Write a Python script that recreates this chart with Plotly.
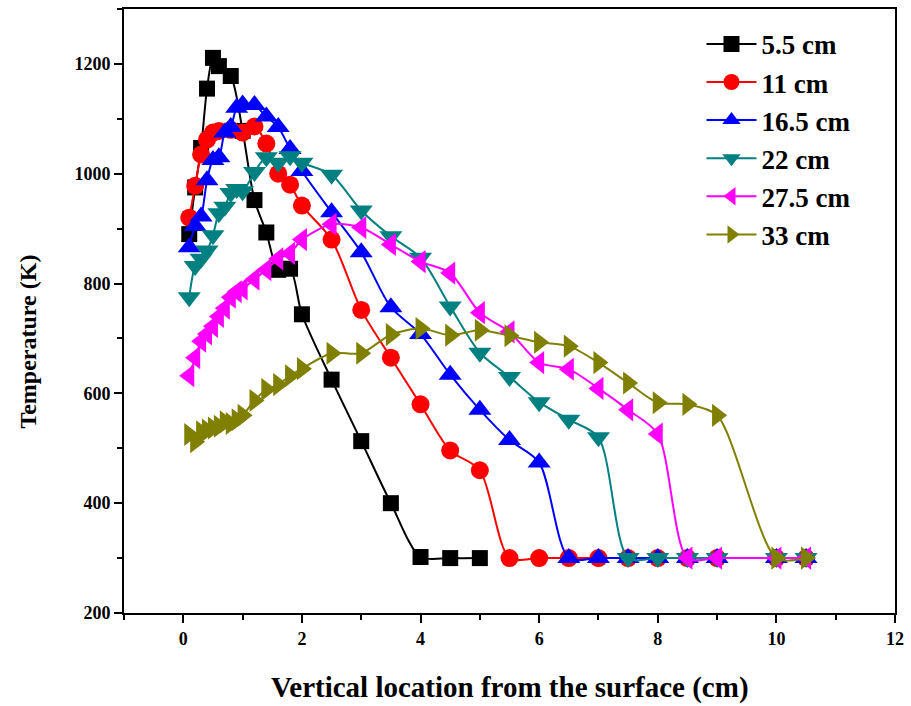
import plotly.graph_objects as go

# Vertical temperature profiles at several horizontal distances
x_55 = [0.1, 0.2, 0.3, 0.4, 0.5, 0.6, 0.8, 1.0, 1.2, 1.4, 1.6, 1.8, 2.0, 2.5, 3.0, 3.5, 4.0, 4.5, 5.0]
t_55 = [890, 975, 1047, 1155, 1211, 1196, 1178, 1078, 952, 893, 825, 827, 744, 625, 513, 400, 302, 300, 300]

x_11 = [0.1, 0.2, 0.3, 0.4, 0.5, 0.6, 0.8, 1.0, 1.2, 1.4, 1.6, 1.8, 2.0, 2.5, 3.0, 3.5, 4.0, 4.5, 5.0,
        5.5, 6.0, 6.5, 7.0, 7.5, 8.0, 8.5, 9.0, 10.0, 10.5]
t_11 = [920, 978, 1035, 1062, 1075, 1078, 1080, 1075, 1086, 1055, 1000, 980, 942, 880, 752, 665, 580, 496, 460,
        300, 300, 300, 300, 300, 300, 300, 300, 300, 300]

x_165 = [0.1, 0.2, 0.3, 0.4, 0.5, 0.6, 0.7, 0.8, 0.9, 1.0, 1.2, 1.4, 1.6, 1.8, 2.0, 2.5, 3.0, 3.5, 4.0, 4.5,
         5.0, 5.5, 6.0, 6.5, 7.0, 7.5, 8.0, 8.5, 9.0, 10.0, 10.5]
t_165 = [866, 905, 922, 988, 1025, 1030, 1075, 1085, 1120, 1126, 1125, 1104, 1085, 1045, 1005, 930, 857, 757, 708,
         634, 570, 515, 474, 300, 300, 300, 300, 300, 300, 300, 300]

x_22 = [0.1, 0.2, 0.3, 0.4, 0.5, 0.6, 0.7, 0.8, 0.9, 1.0, 1.2, 1.4, 1.6, 1.8, 2.0, 2.5, 3.0, 3.5, 4.0, 4.5,
        5.0, 5.5, 6.0, 6.5, 7.0, 7.5, 8.0, 8.5, 9.0, 10.0, 10.5]
t_22 = [775, 832, 845, 860, 888, 928, 940, 965, 972, 968, 1003, 1030, 1020, 1032, 1020, 998, 933, 886, 847, 758,
        674, 630, 584, 552, 520, 300, 300, 300, 300, 300, 300]

x_275 = [0.1, 0.2, 0.3, 0.4, 0.5, 0.6, 0.7, 0.8, 0.9, 1.0, 1.2, 1.4, 1.6, 1.8, 2.0, 2.5, 3.0, 3.5, 4.0, 4.5,
         5.0, 5.5, 6.0, 6.5, 7.0, 7.5, 8.0, 8.5, 9.0, 10.0, 10.5]
t_275 = [632, 665, 695, 708, 722, 740, 755, 775, 785, 790, 808, 825, 845, 855, 880, 908, 902, 871, 840, 819,
         747, 712, 656, 644, 609, 570, 526, 300, 300, 300, 300]

x_33 = [0.1, 0.2, 0.3, 0.4, 0.5, 0.6, 0.7, 0.8, 0.9, 1.0, 1.2, 1.4, 1.6, 1.8, 2.0, 2.5, 3.0, 3.5, 4.0, 4.5,
        5.0, 5.5, 6.0, 6.5, 7.0, 7.5, 8.0, 8.5, 9.0, 10.0, 10.5]
t_33 = [525, 512, 530, 533, 537, 540, 548, 545, 552, 560, 587, 607, 616, 632, 645, 673, 673, 707, 718, 706,
        715, 705, 693, 686, 656, 619, 583, 580, 560, 300, 300]

series = [
    ("5.5 cm", x_55, t_55, "#000000", "square", 16),
    ("11 cm", x_11, t_11, "#FF0000", "circle", 18),
    ("16.5 cm", x_165, t_165, "#0000FF", "triangle-up", 20),
    ("22 cm", x_22, t_22, "#008080", "triangle-down", 20),
    ("27.5 cm", x_275, t_275, "#FF00FF", "triangle-left", 20),
    ("33 cm", x_33, t_33, "#808000", "triangle-right", 20),
]

FONT = "Liberation Serif"

fig = go.Figure()
for i, (name, xs, ys, color, symbol, size) in enumerate(series):
    fig.add_trace(go.Scatter(
        x=xs, y=ys, name=name, mode="lines+markers",
        line=dict(color=color, width=2, shape="spline", smoothing=0.8),
        marker=dict(symbol=symbol, size=size, color=color, line=dict(width=0)),
        legendgroup=f"g{i}",
    ))

axis_common = dict(
    showline=True, linecolor="black", linewidth=2, mirror=True,
    ticks="outside", ticklen=8, tickwidth=2, tickcolor="black",
    showgrid=False, zeroline=False,
    tickfont=dict(family=FONT, size=18, color="black", weight="bold"),
)

fig.update_xaxes(
    range=[-1, 12], dtick=2, tick0=0,
    minor=dict(dtick=1, ticks="outside", ticklen=5, tickwidth=2, tickcolor="black"),
    **axis_common,
)
fig.update_yaxes(
    range=[200, 1300], dtick=200, tick0=200,
    minor=dict(dtick=100, ticks="outside", ticklen=5, tickwidth=2, tickcolor="black"),
    **axis_common,
)

fig.add_annotation(
    text="Vertical location from the surface (cm)",
    xref="paper", yref="paper", x=0.5, y=-0.124,
    xanchor="center", yanchor="middle", showarrow=False,
    font=dict(family=FONT, size=29, color="black", weight="bold"),
)
fig.add_annotation(
    text="Temperature (K)",
    xref="paper", yref="paper", x=-0.124, y=0.45, textangle=-90,
    xanchor="center", yanchor="middle", showarrow=False,
    font=dict(family=FONT, size=24, color="black", weight="bold"),
)

fig.update_layout(
    width=911, height=706,
    margin=dict(l=124, r=14, t=7, b=93),
    paper_bgcolor="white", plot_bgcolor="white",
    showlegend=True,
    legend=dict(
        x=0.749, y=0.982, xanchor="left", yanchor="top",
        bgcolor="rgba(0,0,0,0)", borderwidth=0,
        font=dict(family=FONT, size=27, color="black", weight="bold"),
        tracegroupgap=0, itemwidth=50,
    ),
)

fig.write_html("out.html")
